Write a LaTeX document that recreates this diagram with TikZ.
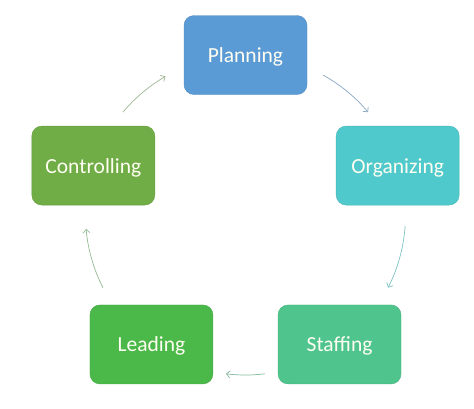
\documentclass[tikz,border=0pt]{standalone}
\usepackage{fontspec}
\setmainfont{Carlito}
\usetikzlibrary{arrows.meta}

\definecolor{planblue}{HTML}{5B9BD5}
\definecolor{orgteal}{HTML}{4FC9CB}
\definecolor{staffgreen}{HTML}{4FC48C}
\definecolor{leadgreen}{HTML}{4BB84A}
\definecolor{ctrlgreen}{HTML}{70AD47}

\begin{document}
\begin{tikzpicture}[
		stage/.style={
			shape=rectangle,
			rounded corners=10pt,
			minimum width=123pt,
			minimum height=79pt,
			text=white!95!yellow,
			font={\fontsize{21.5}{26}\selectfont},
			text height=19pt,
			text depth=4pt,
			align=center
		},
		cycle/.style={
			->,
			line width=0.7pt,
			>={Straight Barb[length=3.5pt,width=7pt]}
		}
		]
		
		\useasboundingbox (0,0) rectangle (474pt,-408pt);
		
		\coordinate (hub) at (245.5pt,-215pt);
		
		\node[stage, fill=planblue, draw=planblue!90!black] (planning)
		at ([shift={(90:160pt)}]hub) {Planning};
		
		\node[stage, fill=orgteal, draw=orgteal!90!black] (organizing)
		at ([shift={(18:160pt)}]hub) {Organizing};
		
		\node[stage, fill=staffgreen, draw=staffgreen!90!black] (staffing)
		at ([shift={(-54:160pt)}]hub) {Staffing};
		
		\node[stage, fill=leadgreen, draw=leadgreen!90!black] (leading)
		at ([shift={(-126:160pt)}]hub) {Leading};
		
		\node[stage, fill=ctrlgreen, draw=ctrlgreen!90!black] (controlling)
		at ([shift={(162:160pt)}]hub) {Controlling};
		
		%%%%%%%%%%
		
		\draw[cycle, color=planblue!60!gray!80] ([shift={(61:160pt)}]hub)
		arc[start angle=61, end angle=40, radius=160pt];
		
		\draw[cycle, color=orgteal!70!gray!80] ([shift={(-4:160pt)}]hub)
		arc[start angle=-4, end angle=-27, radius=160pt];
		
		\draw[cycle, color=staffgreen!60!gray!80] ([shift={(-83:160pt)}]hub)
		arc[start angle=-83, end angle=-97, radius=160pt];
		
		\draw[cycle, color=leadgreen!50!gray!70] ([shift={(-153:160pt)}]hub)
		arc[start angle=-153, end angle=-175, radius=160pt];
		
		\draw[cycle, color=ctrlgreen!50!gray!70] ([shift={(140:160pt)}]hub)
		arc[start angle=140, end angle=120, radius=160pt];
		
	\end{tikzpicture}
\end{document}
